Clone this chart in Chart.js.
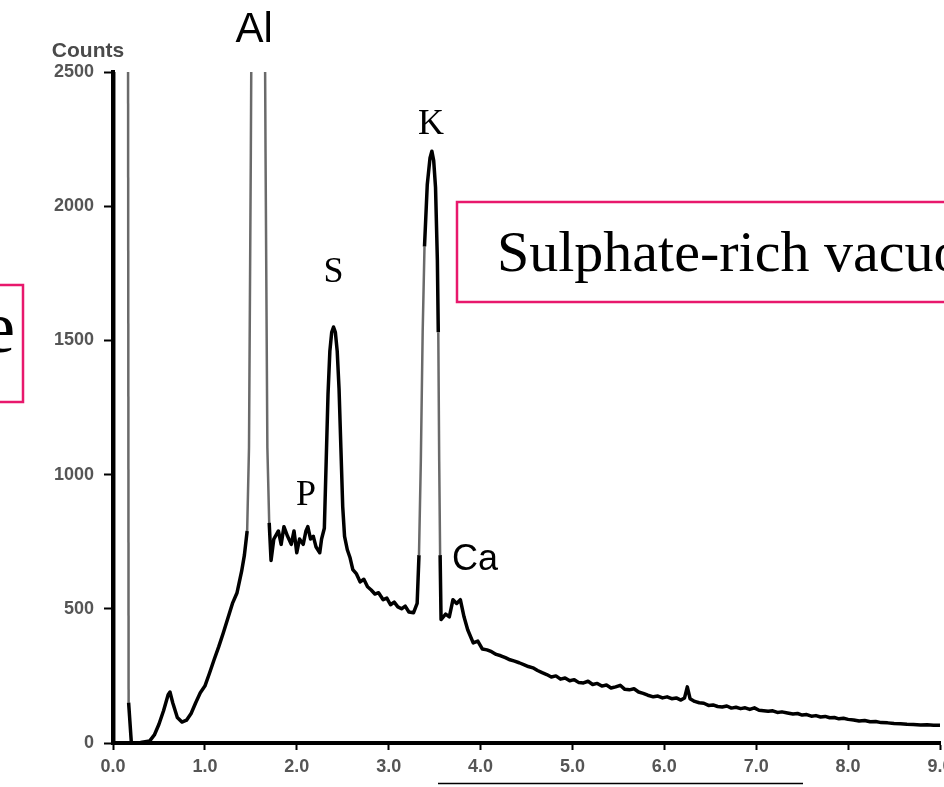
<!DOCTYPE html>
<html lang="en">
<head>
<meta charset="UTF-8">
<title>Espectro EDX</title>
<script src="https://cdn.jsdelivr.net/npm/chart.js@4.4.1/dist/chart.umd.min.js"></script>
<style>
    body { margin: 0; background: #ffffff; }
    #contenedor { position: relative; width: 944px; height: 787px; }
</style>
</head>
<body>
<div id="contenedor"><canvas id="espectro"></canvas></div>
<script>
//datos del espectro (energia en keV, cuentas)
const energia = [
    0.00, 0.005, 0.155, 0.17, 0.20, 0.25, 0.30, 0.35, 0.40, 0.45, 0.50, 0.55, 0.60, 0.62, 0.65, 0.70, 0.75, 0.80, 0.85, 0.90,
    0.95, 1.00, 1.05, 1.10, 1.15, 1.20, 1.25, 1.30, 1.35, 1.40, 1.43, 1.46, 1.48, 1.50, 1.53, 1.58, 1.63, 1.66, 1.68, 1.70,
    1.72, 1.75, 1.80, 1.83, 1.86, 1.90, 1.94, 1.97, 2.00, 2.03, 2.07, 2.10, 2.12, 2.15, 2.18, 2.21, 2.25, 2.27, 2.30, 2.32,
    2.34, 2.36, 2.38, 2.40, 2.42, 2.44, 2.46, 2.48, 2.50, 2.52, 2.55, 2.58, 2.61, 2.65, 2.69, 2.73, 2.77, 2.81, 2.85, 2.89,
    2.94, 2.98, 3.02, 3.06, 3.10, 3.14, 3.18, 3.22, 3.27, 3.31, 3.33, 3.35, 3.37, 3.39, 3.42, 3.45, 3.47, 3.49, 3.51, 3.53,
    3.54, 3.55, 3.56, 3.57, 3.62, 3.66, 3.70, 3.74, 3.78, 3.82,
    3.86, 3.92, 3.97, 4.02, 4.07, 4.12, 4.17, 4.22, 4.27, 4.32, 4.37, 4.42, 4.47, 4.52, 4.57, 4.62, 4.67, 4.72, 4.77, 4.82,
    4.87, 4.92, 4.97, 5.02, 5.07, 5.12, 5.17, 5.22, 5.27, 5.32, 5.37, 5.42, 5.47, 5.52, 5.57, 5.62, 5.67, 5.72, 5.77, 5.82,
    5.88, 5.93, 5.98, 6.03, 6.08, 6.13, 6.18, 6.22, 6.25, 6.28, 6.33, 6.38, 6.43, 6.48, 6.53, 6.58, 6.63, 6.68, 6.73, 6.78,
    6.83, 6.88, 6.93, 6.98, 7.03, 7.08, 7.13, 7.18, 7.23, 7.28, 7.34, 7.40, 7.45, 7.50, 7.55, 7.60, 7.65, 7.70, 7.75, 7.80,
    7.85, 7.90, 7.95, 8.00, 8.06, 8.12, 8.18, 8.24, 8.30, 8.36, 8.43, 8.50, 8.57, 8.64, 8.71, 8.79, 8.86, 8.93, 9.00
];
const cuentas = [
    0, 6000, 6000, 150, 0, 0, 2, 5, 8, 30, 70, 120, 180, 190, 150, 95, 78, 85, 110, 150,
    187, 212, 260, 310, 358, 410, 465, 520, 560, 640, 700, 790, 1100, 2200, 4200, 6500, 4200, 2200, 1100, 820,
    680, 760, 790, 740, 806, 770, 740, 790, 709, 760, 740, 790, 806, 760, 770, 730, 709, 760, 800, 1050,
    1300, 1460, 1530, 1550, 1530, 1460, 1320, 1100, 880, 770, 720, 690, 646, 630, 600, 610, 582, 570, 555, 560,
    534, 540, 515, 525, 507, 500, 510, 488, 485, 520, 700, 1050, 1530, 1850, 2080, 2180, 2205, 2170, 2070, 1800,
    1530, 1050, 700, 460, 480, 470, 534, 520, 534, 470,
    422, 373, 380, 350, 347, 340, 330, 325, 318, 310, 305, 299, 292, 285, 280, 270, 262, 255, 246, 250,
    238, 242, 232, 236, 225, 224, 230, 218, 222, 212, 216, 205, 209, 215, 200, 198, 202, 190, 185, 178,
    172, 175, 168, 172, 165, 168, 160, 168, 209, 165, 155, 150, 148, 140, 142, 136, 134, 138, 130, 133,
    128, 131, 125, 131, 122, 120, 118, 120, 114, 116, 112, 108, 110, 104, 106, 100, 102, 97, 99, 94,
    95, 90, 92, 88, 86, 82, 84, 79, 80, 76, 75, 73, 72, 70, 69, 67, 68, 66, 66
];

//etiquetas de los ejes
const etiquetasX = ['0.0', '1.0', '2.0', '3.0', '4.0', '5.0', '6.0', '7.0', '8.0', '9.0'];
const ticksY = [0, 500, 1000, 1500, 2000, 2500];

//textos del dibujo
const elementos = ['Al', 'P', 'S', 'K', 'Ca'];
const cajas = ['Sulphate-rich vacuole', 'e'];

//plugin para los textos y recuadros
const anotaciones = {
    id: 'anotaciones',
    afterDraw(chart) {
        const { ctx } = chart;
        const { x, y } = chart.scales;
        ctx.save();

        //titulo del eje
        ctx.fillStyle = '#4a4a4a';
        ctx.font = 'bold 21px "Liberation Sans"';
        ctx.textAlign = 'center';
        ctx.textBaseline = 'alphabetic';
        ctx.fillText('Counts', 88, 57);

        //nombres de los picos (energia, cuentas de la linea base del texto)
        const posiciones = {
            Al: [1.535, 2612, '42px "Liberation Sans"'],
            P:  [2.10, 888, '36px "Liberation Serif"'],
            S:  [2.40, 1716, '36px "Liberation Serif"'],
            K:  [3.46, 2269, '36px "Liberation Serif"'],
            Ca: [3.94, 645, '36px "Liberation Sans"']
        };
        ctx.fillStyle = '#000';
        elementos.forEach(nombre => {
            const [e, c, fuente] = posiciones[nombre];
            ctx.font = fuente;
            ctx.fillText(nombre, x.getPixelForValue(e), y.getPixelForValue(c));
        });

        //recuadro derecho
        ctx.fillStyle = '#fff';
        ctx.fillRect(457, 202, 520, 100);
        ctx.strokeStyle = '#e8186c';
        ctx.lineWidth = 2.5;
        ctx.strokeRect(457, 202, 520, 100);
        ctx.fillStyle = '#000';
        ctx.font = '58px "Liberation Serif"';
        ctx.textAlign = 'left';
        ctx.fillText(cajas[0], 497, 271);

        //recuadro izquierdo
        ctx.strokeRect(-10, 285, 33, 117);
        ctx.font = '74px "Liberation Serif"';
        ctx.textAlign = 'right';
        ctx.fillText(cajas[1], 15, 352);

        //linea de abajo
        ctx.strokeStyle = '#000';
        ctx.lineWidth = 1.5;
        ctx.beginPath();
        ctx.moveTo(438, 783.5);
        ctx.lineTo(803, 783.5);
        ctx.stroke();

        ctx.restore();
    }
};

//lados de los picos altos en gris (menos el borde del pico de ruido en 0)
const esLado = ctx => {
    const dx = Math.abs(ctx.p1.x - ctx.p0.x);
    const dy = Math.abs(ctx.p1.y - ctx.p0.y);
    return ctx.p0DataIndex > 0 && dy > 6 * dx && dy > 75;
};

const fuenteTicks = { family: '"Liberation Sans"', size: 18, weight: 'bold' };

const ctx = document.getElementById('espectro').getContext('2d');
const grafico = new Chart(ctx, {
    type: 'line',
    data: {
        datasets: [{
            data: energia.map((e, i) => ({ x: e, y: cuentas[i] })),
            borderColor: '#000',
            borderWidth: 3.5,
            borderJoinStyle: 'round',
            pointRadius: 0,
            tension: 0,
            fill: false,
            segment: {
                borderColor: ctx => esLado(ctx) ? '#6a6a6a' : '#000',
                borderWidth: ctx => esLado(ctx) ? 2.5 : (ctx.p0DataIndex === 0 ? 4 : 3.5)
            }
        }]
    },
    options: {
        responsive: true,
        maintainAspectRatio: false,
        animation: false,
        events: [],
        layout: { padding: { top: 72, right: 4, left: 0, bottom: 0 } },
        plugins: { legend: { display: false }, tooltip: { enabled: false } },
        scales: {
            x: {
                type: 'linear',
                min: 0,
                max: 9,
                ticks: {
                    stepSize: 1,
                    color: '#555',
                    font: fuenteTicks,
                    padding: 6,
                    maxRotation: 0,
                    autoSkip: false,
                    callback: value => etiquetasX[value]
                },
                grid: { drawOnChartArea: false, tickLength: 7, tickWidth: 2, tickColor: '#000' },
                border: { display: true, color: '#000', width: 4 },
                afterFit: scale => {
                    scale.height = 44;
                    scale.paddingLeft = 0;
                    scale.paddingRight = 0;
                }
            },
            y: {
                min: 0,
                max: 2500,
                afterBuildTicks: scale => {
                    scale.ticks = ticksY.map(v => ({ value: v }));
                },
                ticks: {
                    color: '#555',
                    font: fuenteTicks,
                    padding: 10,
                    callback: value => String(value)
                },
                grid: { drawOnChartArea: false, tickLength: 9, tickWidth: 2, tickColor: '#000' },
                border: { display: true, color: '#000', width: 4 },
                afterFit: scale => {
                    scale.width = 113;
                    scale.paddingTop = 0;
                    scale.paddingBottom = 0;
                }
            }
        }
    },
    plugins: [anotaciones]
});
</script>
</body>
</html>
